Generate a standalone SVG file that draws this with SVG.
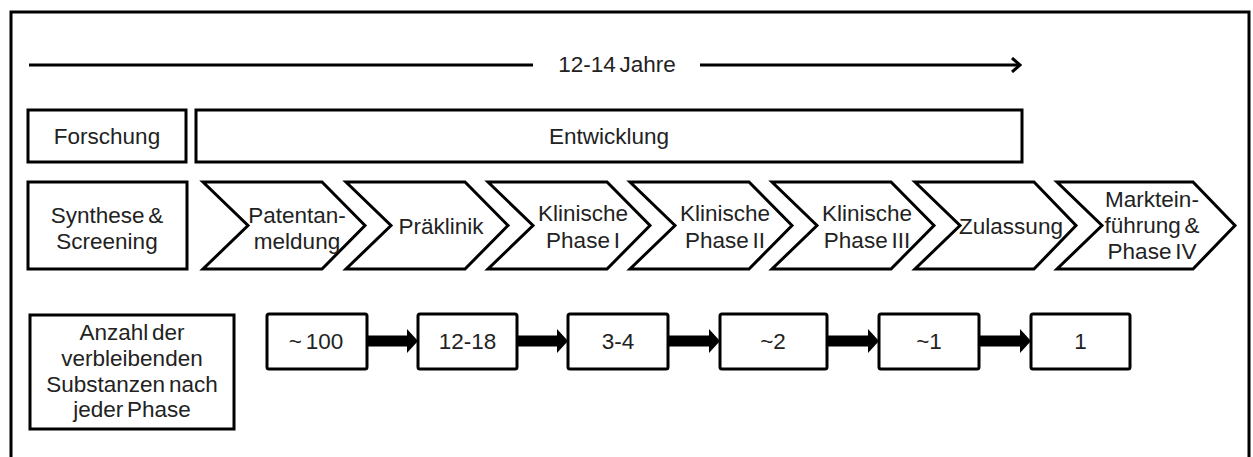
<svg xmlns="http://www.w3.org/2000/svg" width="1253" height="457" viewBox="0 0 1253 457">
<style>
  .box{fill:#fff;stroke:#000;stroke-width:3}
  .nbox{fill:#fff;stroke:#000;stroke-width:3}
  .chev{fill:#fff;stroke:#000;stroke-width:3;stroke-linejoin:miter}
  .t{font-family:"Liberation Sans",Arial,Helvetica,sans-serif;font-size:22.5px;word-spacing:-2.5px;fill:#222;text-anchor:middle}
  .line{stroke:#000;stroke-width:3;fill:none}
  .arr{fill:#000}
</style>
<defs>
  <marker id="open" markerWidth="12" markerHeight="16" refX="10" refY="8" orient="auto" markerUnits="userSpaceOnUse">
    <path d="M2,1 L10,8 L2,15" fill="none" stroke="#000" stroke-width="3"/>
  </marker>
</defs>
<rect x="0" y="0" width="1253" height="457" fill="#fff"/>
<rect id="frame" x="11" y="12" width="1238" height="470" fill="none" stroke="#000" stroke-width="3"/>

<g id="timeline">
  <line class="line" x1="29" y1="65" x2="533" y2="65"/>
  <line class="line" x1="700" y1="65" x2="1020" y2="65" marker-end="url(#open)"/>
  <text class="t" x="617" y="72">12-14 Jahre</text>
</g>

<g id="forschung"><rect class="box" x="28" y="110" width="158" height="52"/><text class="t" x="107" y="144">Forschung</text></g>
<g id="entwicklung"><rect class="box" x="196" y="110" width="826" height="52"/><text class="t" x="609" y="144">Entwicklung</text></g>

<g id="synthese"><rect class="box" x="28" y="182" width="159" height="87"/>
  <text class="t" x="107" y="223">Synthese &amp;</text><text class="t" x="107" y="249">Screening</text></g>

<g id="patent"><polygon class="chev" points="203,182 322,182 365,225.5 322,269 203,269 248,225.5"/>
  <text class="t" x="297" y="223">Patentan-</text><text class="t" x="297" y="249">meldung</text></g>
<g id="praeklinik"><polygon class="chev" points="346,182 465,182 508,225.5 465,269 346,269 391,225.5"/>
  <text class="t" x="441" y="234">Präklinik</text></g>
<g id="phase1"><polygon class="chev" points="488,182 607,182 650,225.5 607,269 488,269 533,225.5"/>
  <text class="t" x="583" y="221">Klinische</text><text class="t" x="583" y="248">Phase I</text></g>
<g id="phase2"><polygon class="chev" points="630,182 749,182 792,225.5 749,269 630,269 675,225.5"/>
  <text class="t" x="725" y="221">Klinische</text><text class="t" x="725" y="248">Phase II</text></g>
<g id="phase3"><polygon class="chev" points="772,182 891,182 934,225.5 891,269 772,269 817,225.5"/>
  <text class="t" x="867" y="221">Klinische</text><text class="t" x="867" y="248">Phase III</text></g>
<g id="zulassung"><polygon class="chev" points="915,182 1034,182 1076,225.5 1034,269 915,269 960,225.5"/>
  <text class="t" x="1011" y="234">Zulassung</text></g>
<g id="markt"><polygon class="chev" points="1057,182 1193,182 1235,225.5 1193,269 1057,269 1102,225.5"/>
  <text class="t" x="1152" y="207">Marktein-</text><text class="t" x="1152" y="233">führung &amp;</text><text class="t" x="1152" y="259">Phase IV</text></g>

<g id="anzahl"><rect class="box" x="30" y="315" width="204" height="114"/>
  <text class="t" x="132" y="340">Anzahl der</text><text class="t" x="132" y="366">verbleibenden</text><text class="t" x="132" y="392">Substanzen nach</text><text class="t" x="132" y="417">jeder Phase</text></g>

<g id="n100"><rect class="nbox" x="267" y="314" width="100" height="55" rx="2"/><text class="t" x="316" y="349">~ 100</text></g>
<g id="n1218"><rect class="nbox" x="418" y="314" width="99" height="55" rx="2"/><text class="t" x="467.5" y="349">12-18</text></g>
<g id="n34"><rect class="nbox" x="568" y="314" width="100" height="55" rx="2"/><text class="t" x="618" y="349">3-4</text></g>
<g id="n2"><rect class="nbox" x="720" y="314" width="107" height="55" rx="2"/><text class="t" x="773" y="349">~2</text></g>
<g id="n1a"><rect class="nbox" x="879" y="314" width="100" height="55" rx="2"/><text class="t" x="929" y="349">~1</text></g>
<g id="n1b"><rect class="nbox" x="1031" y="314" width="99" height="55" rx="2"/><text class="t" x="1080.5" y="349">1</text></g>

<g id="connectors">
  <polygon class="arr" points="368,335.5 407,335.5 407,329 418,341 407,353 407,346.5 368,346.5"/>
  <polygon class="arr" points="518,335.5 557,335.5 557,329 568,341 557,353 557,346.5 518,346.5"/>
  <polygon class="arr" points="669,335.5 709,335.5 709,329 720,341 709,353 709,346.5 669,346.5"/>
  <polygon class="arr" points="828,335.5 868,335.5 868,329 879,341 868,353 868,346.5 828,346.5"/>
  <polygon class="arr" points="980,335.5 1020,335.5 1020,329 1031,341 1020,353 1020,346.5 980,346.5"/>
</g>
</svg>
